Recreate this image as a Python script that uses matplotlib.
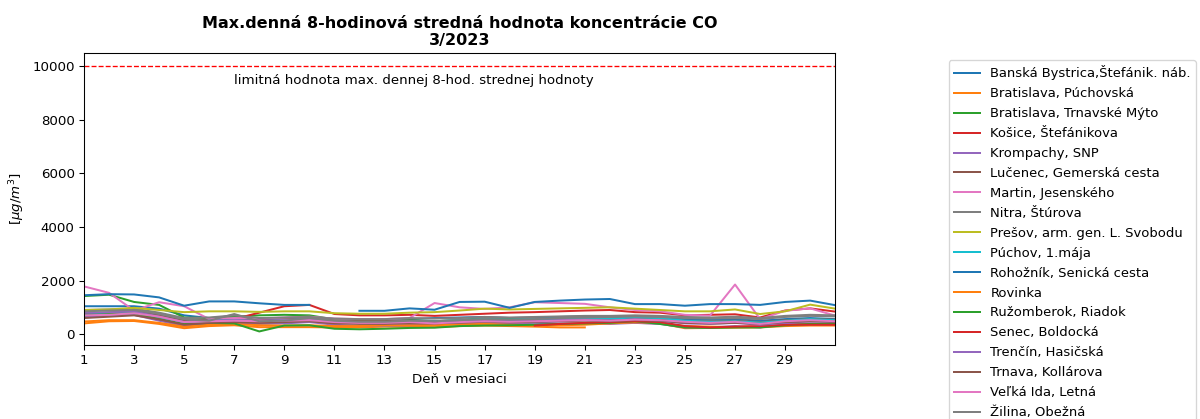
import numpy as np
import matplotlib
matplotlib.use("Agg")
import matplotlib.pyplot as plt

nan = np.nan

# days of the month
days = list(range(1, 32))

stations = [
    "Banská Bystrica,Štefánik. náb.",
    "Bratislava, Púchovská",
    "Bratislava, Trnavské Mýto",
    "Košice, Štefánikova",
    "Krompachy, SNP",
    "Lučenec, Gemerská cesta",
    "Martin, Jesenského",
    "Nitra, Štúrova",
    "Prešov, arm. gen. L. Svobodu",
    "Púchov, 1.mája",
    "Rohožník, Senická cesta",
    "Rovinka",
    "Ružomberok, Riadok",
    "Senec, Boldocká",
    "Trenčín, Hasičská",
    "Trnava, Kollárova",
    "Veľká Ida, Letná",
    "Žilina, Obežná",
]

# daily max 8-h mean CO [ug/m3]
banska_bystrica = [1040, 1040, 1040, 950, 700, 600, 620, 560, 600, 650, 560, 520, 540, 560, 600, 620,
                   640, 600, 620, 640, 660, 650, 620, 600, 560, 540, 560, 500, 560, 600, 560]
ba_puchovska = [400, 480, 490, 380, 220, 300, 330, 260, 260, 260, 250, 250, 280, 270, 260, 300,
                320, 300, 280, 250, 250, nan, 420, 400, 220, 230, 240, 250, 300, 320, 320]
ba_trnavske_myto = [1420, 1470, 1200, 1090, 620, 600, 650, 700, 720, 700, 550, 500, 500, 520, 480, 520,
                    600, 560, 540, 520, 560, 580, 600, 560, 450, 400, 420, 420, 500, 550, 520]
kosice = [700, 780, 820, 700, 500, 500, 560, 800, 1040, 1090, 750, 700, 700, 720, 680, 720,
          760, 800, 820, 850, 880, 900, 820, 800, 700, 720, 740, 620, 880, 960, 840]
krompachy = [650, 700, 720, 500, 300, 380, 400, 380, 400, 450, 350, 300, 300, 330, 350, 380,
             400, 400, 420, 400, 400, 380, 420, 380, 250, 250, 300, 250, 380, 400, 380]
lucenec = [750, 800, 850, 700, 500, 550, 560, 520, 560, 600, 500, 480, 480, 500, 480, 520,
           560, 520, 540, 560, 580, 560, 600, 580, 500, 480, 500, 450, 520, 560, 540]
martin = [1780, 1540, 880, 1190, 1040, 560, 600, 580, 620, 650, 580, 560, 560, 600, 1160, 1000,
          940, 1000, 1190, 1160, 1130, 1000, 900, 850, 720, 690, 1850, 560, 870, 960, 690]
nitra = [900, 920, 950, 800, 600, 620, 700, 600, 620, 640, 580, 560, 560, 600, 580, 600,
         640, 620, 640, 660, 680, 680, 700, 680, 640, 620, 650, 600, 680, 720, 700]
presov = [900, 920, 980, 900, 820, 850, 850, 830, 850, 850, 780, 760, 760, 800, 820, 880,
          950, 920, 940, 960, 980, 1000, 950, 900, 850, 850, 920, 750, 850, 1100, 950]
puchov = [720, 760, 800, 620, 450, 500, 520, 480, 520, 560, 460, 420, 420, 460, 480, 520,
          560, 540, 560, 580, 600, 580, 620, 600, 500, 460, 480, 430, 500, 560, 520]
rohoznik = [1450, 1490, 1480, 1370, 1060, 1220, 1220, 1150, 1090, 1090, nan, 870, 870, 960, 910, 1200,
            1210, 980, 1200, 1250, 1290, 1310, 1120, 1120, 1060, 1120, 1120, 1090, 1200, 1250, 1080]
rovinka = [470, 520, 520, 420, 280, 350, 380, 330, 320, 330, 300, 300, 320, 330, 330, 360,
           380, 350, 340, 330, 350, 400, 440, 420, 300, 280, 260, 300, 340, 360, 360]
ruzomberok = [700, 750, 780, 560, 380, 420, 400, 100, 320, 330, 200, 180, 200, 230, 240, 300,
              320, 330, 350, 380, 400, 420, 480, 380, 250, 230, 250, 250, 330, 380, 380]
senec = [nan, nan, nan, nan, nan, nan, nan, nan, nan, nan, nan, nan, nan, nan, nan, nan,
         nan, nan, 320, 380, 420, 450, 480, 450, 300, 250, 280, 300, 350, 350, 350]
trencin = [800, 820, 850, 650, 450, 500, 520, 500, 520, 550, 480, 450, 450, 480, 420, 500,
           520, 480, 500, 520, 540, 500, 550, 500, 400, 380, 420, 350, 420, 480, 450]
trnava = [600, 650, 700, 550, 350, 420, 450, 420, 450, 480, 400, 380, 380, 400, 400, 430,
          460, 440, 460, 480, 500, 480, 520, 500, 420, 400, 420, 380, 450, 480, 460]
velka_ida = [700, 720, 780, 650, 450, 480, 500, 480, 500, 520, 450, 420, 420, 450, 400, 450,
             480, 460, 480, 500, 520, 500, 540, 520, 460, 420, 460, 380, 480, 520, 480]
zilina = [850, 880, 900, 750, 550, 500, 750, 480, 500, 600, 500, 460, 460, 500, 480, 520,
          560, 540, 560, 600, 620, 640, 660, 640, 600, 580, 600, 560, 640, 680, 660]

series = [banska_bystrica, ba_puchovska, ba_trnavske_myto, kosice, krompachy, lucenec,
          martin, nitra, presov, puchov, rohoznik, rovinka, ruzomberok, senec, trencin,
          trnava, velka_ida, zilina]

LIMIT = 10000
LIMIT_LABEL = "limitná hodnota max. dennej 8-hod. strednej hodnoty"

fig = plt.figure(figsize=(1200 / 96, 419 / 96), dpi=96)
ax = fig.add_axes([0.07, 0.177, 0.626, 0.696])

for name, vals in zip(stations, series):
    ax.plot(days, vals, label=name)

ax.axhline(LIMIT, color="red", linestyle="--", linewidth=1)
ax.text(7, 9450, LIMIT_LABEL, ha="left", va="center", fontsize=10)

ax.set_xlim(1, 31)
ax.set_ylim(-400, 10480)
ax.set_xticks(range(1, 31, 2))
ax.set_yticks(range(0, 10001, 2000))
ax.set_xlabel("Deň v mesiaci")
ax.set_ylabel(r"[$\mu g/m^3$]")
ax.set_title("Max.denná 8-hodinová stredná hodnota koncentrácie CO\n3/2023",
             fontweight="bold", fontsize=12)

fig.legend(loc="upper left", bbox_to_anchor=(0.785, 0.872), fontsize=9.8, labelspacing=0.53)

fig.savefig("out.png", dpi=96)
